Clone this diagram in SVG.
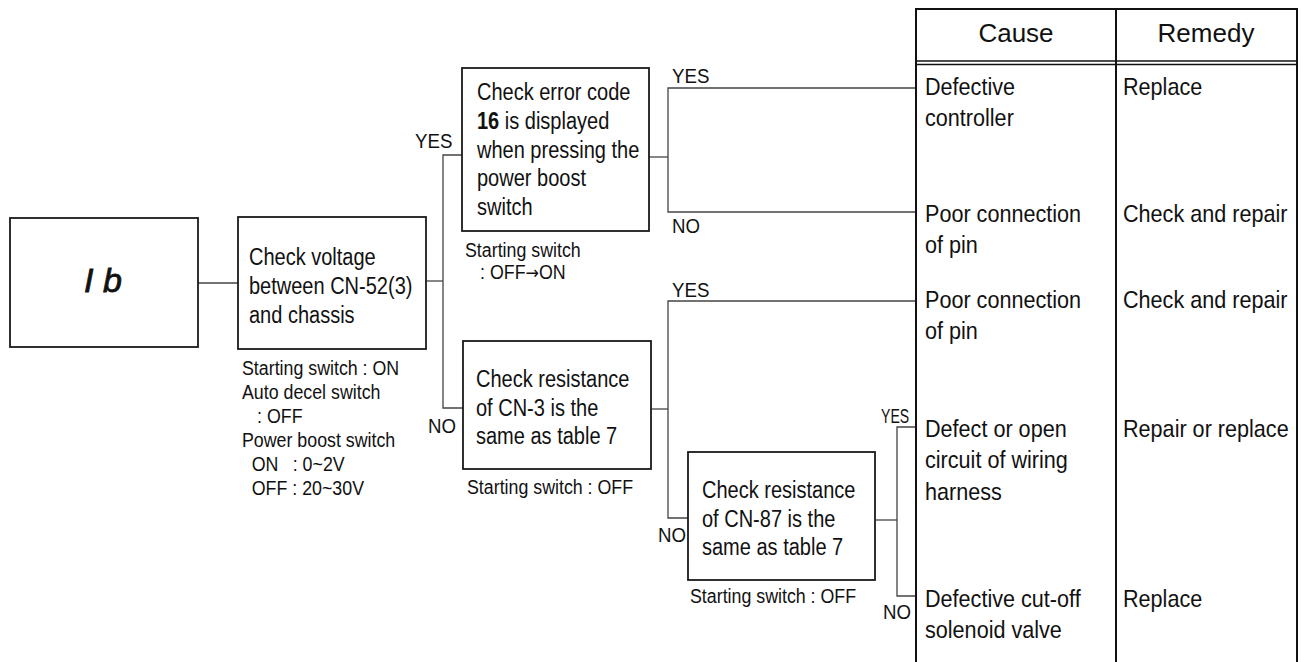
<svg xmlns="http://www.w3.org/2000/svg" width="1306" height="662" viewBox="0 0 1306 662">
<style>
text{font-family:"Liberation Sans",Arial,sans-serif;fill:#111}
.box{fill:#fff;stroke:#1a1a1a;stroke-width:1.8}
.bt{font-size:23px}
.ct{font-size:24px}
.nt{font-size:20px}
.lb{font-size:21px}
.hd{font-size:26px}
.conn line,.conn polyline{stroke:#444;stroke-width:1.3;fill:none}
.tbl line{stroke:#111;stroke-width:2}
</style>
<rect width="1306" height="662" fill="#fff"/>

<g class="conn" id="connectors">
  <line x1="198" y1="283" x2="238" y2="283"/>
  <line x1="426" y1="281" x2="443" y2="281"/>
  <polyline points="462,155 443,155 443,408 463,408"/>
  <line x1="649" y1="157" x2="668" y2="157"/>
  <polyline points="916,88 668,88 668,212 916,212"/>
  <line x1="651" y1="409" x2="668" y2="409"/>
  <polyline points="916,301 668,301 668,518 688,518"/>
  <line x1="875" y1="520" x2="897" y2="520"/>
  <polyline points="916,427 897,427 897,596 916,596"/>
</g>

<g id="labels">
  <text class="lb" transform="translate(415,148) scale(0.89,1)">YES</text>
  <text class="lb" transform="translate(428,433) scale(0.89,1)">NO</text>
  <text class="lb" transform="translate(672,83) scale(0.89,1)">YES</text>
  <text class="lb" transform="translate(672,233) scale(0.89,1)">NO</text>
  <text class="lb" transform="translate(672,297) scale(0.89,1)">YES</text>
  <text class="lb" transform="translate(658,542) scale(0.89,1)">NO</text>
  <text class="lb" transform="translate(881,423) scale(0.67,1)">YES</text>
  <text class="lb" transform="translate(883,619) scale(0.89,1)">NO</text>
</g>

<g id="node-code">
  <rect class="box" x="10" y="218" width="188" height="129"/>
  <text x="103" y="292" text-anchor="middle" font-size="34" font-style="italic" stroke="#111" stroke-width="0.8">I b</text>
</g>

<g id="node-voltage">
  <rect class="box" x="238" y="217" width="188" height="132"/>
  <text class="bt" transform="translate(249,265) scale(0.87,1)"><tspan x="0" y="0">Check voltage</tspan><tspan x="0" y="29">between CN-52(3)</tspan><tspan x="0" y="58">and chassis</tspan></text>
  <text class="nt" transform="translate(242,375) scale(0.89,1)"><tspan x="0" y="0">Starting switch : ON</tspan><tspan x="0" y="24">Auto decel switch</tspan><tspan x="17" y="48">: OFF</tspan><tspan x="0" y="72">Power boost switch</tspan><tspan x="11" y="96">ON</tspan><tspan x="57" y="96">: 0~2V</tspan><tspan x="11" y="120">OFF : 20~30V</tspan></text>
</g>

<g id="node-errorcode">
  <rect class="box" x="462" y="68" width="187" height="163"/>
  <text class="bt" transform="translate(477,100) scale(0.87,1)"><tspan x="0" y="0">Check error code</tspan><tspan x="0" y="28.8"><tspan font-weight="bold">16</tspan> is displayed</tspan><tspan x="0" y="57.6">when pressing the</tspan><tspan x="0" y="86.4">power boost</tspan><tspan x="0" y="115.2">switch</tspan></text>
  <text class="nt" transform="translate(465,257) scale(0.89,1)"><tspan x="0" y="0">Starting switch</tspan><tspan x="17" y="22">: OFF<tspan font-family="'DejaVu Sans',sans-serif" font-size="18">→</tspan>ON</tspan></text>
</g>

<g id="node-cn3">
  <rect class="box" x="463" y="341" width="188" height="128"/>
  <text class="bt" transform="translate(476,387) scale(0.87,1)"><tspan x="0" y="0">Check resistance</tspan><tspan x="0" y="29">of CN-3 is the</tspan><tspan x="0" y="57">same as table 7</tspan></text>
  <text class="nt" transform="translate(467,494) scale(0.89,1)">Starting switch : OFF</text>
</g>

<g id="node-cn87">
  <rect class="box" x="688" y="452" width="187" height="128"/>
  <text class="bt" transform="translate(702,498) scale(0.87,1)"><tspan x="0" y="0">Check resistance</tspan><tspan x="0" y="29">of CN-87 is the</tspan><tspan x="0" y="57">same as table 7</tspan></text>
  <text class="nt" transform="translate(690,603) scale(0.89,1)">Starting switch : OFF</text>
</g>

<g id="table" class="tbl">
  <line x1="916" y1="9" x2="1297" y2="9"/>
  <line x1="916" y1="8" x2="916" y2="662"/>
  <line x1="1116" y1="8" x2="1116" y2="662"/>
  <line x1="1297" y1="8" x2="1297" y2="662"/>
  <line x1="916" y1="61" x2="1297" y2="61" style="stroke-width:1.5"/>
  <line x1="916" y1="64.5" x2="1297" y2="64.5" style="stroke-width:1.5"/>
  <text class="hd" x="1016" y="42" text-anchor="middle">Cause</text>
  <text class="hd" x="1206" y="42" text-anchor="middle">Remedy</text>
</g>

<g id="row-1">
  <text class="ct" transform="translate(925,95) scale(0.9,1)"><tspan x="0" y="0">Defective</tspan><tspan x="0" y="31">controller</tspan></text>
  <text class="ct" transform="translate(1123,95) scale(0.9,1)">Replace</text>
</g>
<g id="row-2">
  <text class="ct" transform="translate(925,222) scale(0.9,1)"><tspan x="0" y="0">Poor connection</tspan><tspan x="0" y="31">of pin</tspan></text>
  <text class="ct" transform="translate(1123,222) scale(0.9,1)">Check and repair</text>
</g>
<g id="row-3">
  <text class="ct" transform="translate(925,308) scale(0.9,1)"><tspan x="0" y="0">Poor connection</tspan><tspan x="0" y="31">of pin</tspan></text>
  <text class="ct" transform="translate(1123,308) scale(0.9,1)">Check and repair</text>
</g>
<g id="row-4">
  <text class="ct" transform="translate(925,437) scale(0.9,1)"><tspan x="0" y="0">Defect or open</tspan><tspan x="0" y="31.5">circuit of wiring</tspan><tspan x="0" y="63">harness</tspan></text>
  <text class="ct" transform="translate(1123,437) scale(0.9,1)">Repair or replace</text>
</g>
<g id="row-5">
  <text class="ct" transform="translate(925,607) scale(0.9,1)"><tspan x="0" y="0">Defective cut-off</tspan><tspan x="0" y="31">solenoid valve</tspan></text>
  <text class="ct" transform="translate(1123,607) scale(0.9,1)">Replace</text>
</g>
</svg>
